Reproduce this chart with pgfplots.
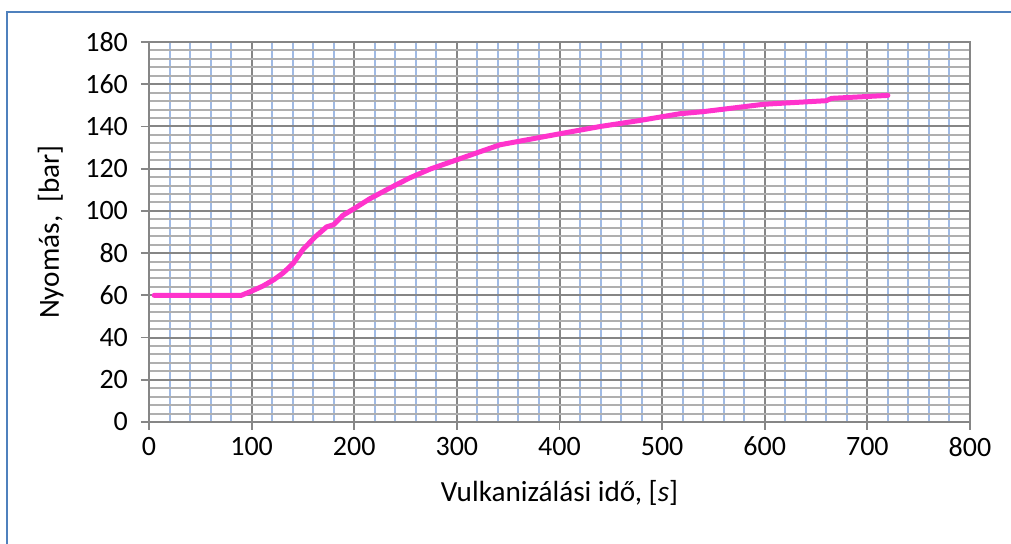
\documentclass[border=0pt]{standalone}
\usepackage{pgfplots}
\pgfplotsset{compat=1.18}
\usepackage{fontspec}
\setmainfont{Carlito}
\definecolor{gridmajor}{RGB}{134,134,134}
\definecolor{gridminorx}{RGB}{160,186,228}
\definecolor{gridminory}{RGB}{175,175,175}
\definecolor{curve}{RGB}{255,51,204}
\definecolor{frameblue}{RGB}{79,129,189}
\begin{document}
\begin{tikzpicture}[x=0.5pt,y=0.5pt]
  % picture frame in pixel units, origin at the axis corner (149,422)
  \useasboundingbox (-149,-122) rectangle (862,422);
  \draw[frameblue,line width=1pt] (-142,-122) -- (-142,410) -- (862,410);
  \begin{axis}[
    at={(0,0)}, anchor=origin,
    scale only axis,
    width=410.5pt, height=190pt,
    xmin=0, xmax=800, ymin=0, ymax=180,
    xtick={0,100,...,800},
    ytick={0,20,...,180},
    minor x tick num=4,
    minor y tick num=4,
    xtick pos=lower, ytick pos=left,
    grid=both,
    major grid style={gridmajor,line width=1pt},
    minor x grid style={gridminorx,line width=1pt},
    minor y grid style={gridminory,line width=1pt},
    axis line style={gridmajor,line width=1pt},
    tick align=outside,
    major tick length=4pt,
    minor tick length=0pt,
    major tick style={gridmajor,line width=0.9pt},
    tick label style={font=\fontsize{14}{16}\selectfont},
    /pgf/number format/assume math mode=true,
    yticklabel style={xshift=-3pt},
    xlabel={Vulkanizálási idő, [\textit{s}]},
    ylabel={Nyomás,~ [bar]},
    label style={font=\fontsize{14.6}{17}\selectfont},
    xlabel style={yshift=-5pt},
    ylabel style={yshift=4pt},
  ]
    \addplot[curve, line width=2.5pt, line join=round, line cap=round] coordinates {
      (5,60)(90,60)(100,62)(111,64.4)(122,67.5)(131,70.7)(141,75.4)
      (150,81.7)(162,87.7)(173,92.4)(180,93.5)(189,97.9)(201,101.4)
      (215,105.7)(235,110.9)(254,115.6)(274,119.8)(300,124.2)(342,131.3)
      (400,136.5)(440,140)(478,142.8)(517,146)(540,147)(599,150.5)
      (660,152.2)(665,153.3)(720,154.7)
    };
  \end{axis}
\end{tikzpicture}
\end{document}
